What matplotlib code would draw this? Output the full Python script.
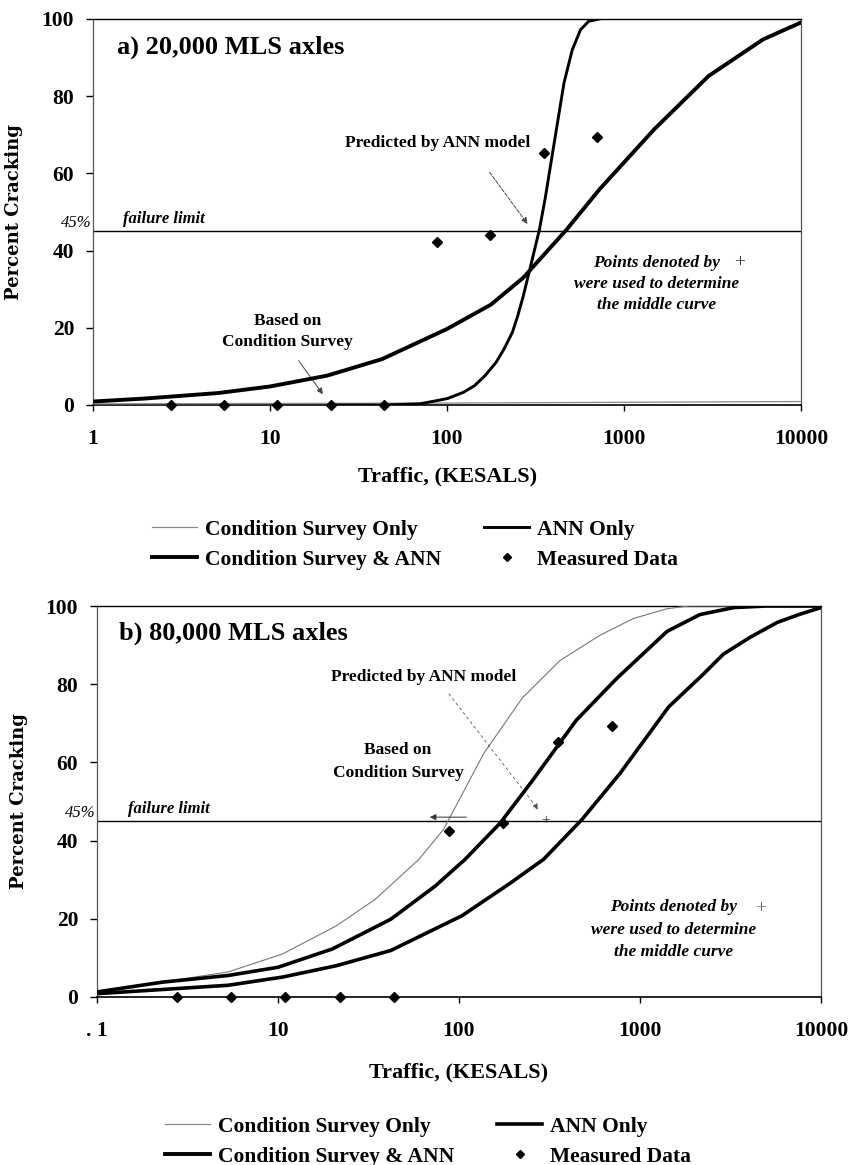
import matplotlib
matplotlib.use('Agg')
import matplotlib.pyplot as plt
from matplotlib.lines import Line2D

plt.rcParams['font.family'] = ['Liberation Serif', 'DejaVu Serif']
plt.rcParams['font.weight'] = 'bold'

# ---------------- data ----------------
measured_x = [2.75, 5.5, 11, 22, 44, 88, 176, 352, 704]
measured_a = [0, 0, 0, 0, 0, 42.2, 44.1, 65.2, 69.4]
measured_b = [0, 0, 0, 0, 0, 42.4, 44.5, 65.3, 69.2]

# panel a (20,000 MLS axles)
a_cs_x = [1, 10, 100, 1000, 10000]
a_cs_y = [0.3, 0.4, 0.5, 0.7, 0.9]
a_ann_x = [22, 44, 70, 87, 101, 124, 143, 164, 189, 210, 234, 251, 270, 300, 333,
           358, 384, 412, 458, 510, 568, 631, 725]
a_ann_y = [0, 0, 0.3, 1.1, 1.7, 3.3, 5.0, 7.6, 11, 14.5, 18.8, 23.1, 28.3, 36.9, 45.5,
           53.3, 61.9, 70.5, 83.4, 92, 97.2, 99.4, 100]
a_both_x = [1, 2, 5.1, 10, 21, 43, 100, 177, 270, 475, 728, 1480, 3000, 6100, 10000]
a_both_y = [0.9, 1.7, 3.1, 4.8, 7.6, 11.9, 19.7, 26, 33, 45.5, 55.9, 71.4, 85.2, 94.7, 99.1]

# panel b (80,000 MLS axles)
b_cs_x = [1, 5.3, 10.6, 21, 34.5, 60, 82, 137, 224, 360, 600, 920, 1410, 1860, 10000]
b_cs_y = [1.3, 6.4, 11, 18.2, 25, 35.2, 42.8, 62.3, 76.5, 86, 92.5, 96.8, 99.3, 100, 100]
b_ann_x = [1, 5.3, 10.6, 21, 42, 104, 193, 293, 476, 776, 1440, 2230, 2890, 4060, 5730, 7650, 10000]
b_ann_y = [0.85, 3, 5.1, 8, 11.9, 20.8, 29.2, 35.2, 45.3, 57.2, 74.2, 82.5, 87.7, 92, 95.8, 97.9, 99.6]
b_both_x = [1, 2.3, 5.3, 10, 20, 42, 74, 108, 169, 256, 445, 745, 1410, 2140, 3300, 5000, 10000]
b_both_y = [1.3, 3.8, 5.5, 7.6, 12.3, 19.9, 28.4, 35.2, 44.5, 55.5, 70.8, 81.5, 93.5, 97.8, 99.6, 100, 100]

x_ticks = [1, 10, 100, 1000, 10000]
x_labels_a = ['1', '10', '100', '1000', '10000']
x_labels_b = ['. 1', '10', '100', '1000', '10000']
y_ticks = [0, 20, 40, 60, 80, 100]
failure_limit = 45

legend_labels = ['Condition Survey Only', 'ANN Only', 'Condition Survey & ANN', 'Measured Data']

W, H = 854, 1165
fig = plt.figure(figsize=(W / 100, H / 100), dpi=100)


def fig_rect(l, r, t, b):
    return [l / W, 1 - b / H, (r - l) / W, (b - t) / H]


def style_axes(ax, xlabels):
    ax.set_xscale('log')
    ax.set_xlim(1, 10000)
    ax.set_ylim(0, 100)
    ax.set_xticks(x_ticks)
    ax.set_xticklabels(xlabels)
    ax.xaxis.set_minor_locator(matplotlib.ticker.NullLocator())
    ax.set_yticks(y_ticks)
    ax.set_yticklabels([str(v) for v in y_ticks])
    ax.tick_params(axis='x', direction='out', length=4, width=1, pad=13, labelsize=15.5)
    ax.tick_params(axis='y', direction='out', length=5, width=1, pad=8.5, labelsize=15.5)
    for s in ['left', 'right']:
        ax.spines[s].set_color('#555555')
        ax.spines[s].set_linewidth(0.9)
    ax.spines['top'].set_color('black')
    ax.spines['top'].set_linewidth(1.0)
    ax.spines['bottom'].set_color('black')
    ax.spines['bottom'].set_linewidth(1.2)
    ax.set_xlabel('Traffic, (KESALS)', fontsize=16, fontweight='bold')
    ax.set_ylabel('Percent Cracking', fontsize=13, fontweight='bold',
                  family=['DejaVu Serif'])
    ax.axhline(failure_limit, color='black', lw=1.0, zorder=2)


# ---------------- panel a ----------------
axa = fig.add_axes(fig_rect(93, 801, 19, 405))
style_axes(axa, x_labels_a)
axa.xaxis.set_label_coords(0.501, -0.186)
axa.xaxis.label.set_va('center')
axa.yaxis.set_label_coords(-0.099, 0.5)
axa.plot(a_cs_x, a_cs_y, color='#888888', lw=0.9, zorder=3)
axa.plot(a_ann_x, a_ann_y, color='black', lw=2.1, zorder=4)
axa.plot(a_both_x, a_both_y, color='black', lw=2.8, zorder=4)
axa.plot(measured_x, measured_a, ls='none', marker='D', ms=5.5, color='black',
         clip_on=False, zorder=5)

axa.text(0.034, 0.927, 'a) 20,000 MLS axles', transform=axa.transAxes,
         fontsize=19, fontweight='bold', va='center', ha='left')
axa.text(88, 68, 'Predicted by ANN model', fontsize=12.5, ha='center', va='center')
axa.annotate('', xy=(285, 46.9), xytext=(174, 60.3),
             arrowprops=dict(arrowstyle='-|>', color='#444444', lw=0.7, ls='--',
                             mutation_scale=9, shrinkA=0, shrinkB=0))
axa.text(12.5, 21.8, 'Based on', fontsize=12.5, ha='center', va='center')
axa.text(12.5, 16.2, 'Condition Survey', fontsize=12.5, ha='center', va='center')
axa.annotate('', xy=(19.9, 2.8), xytext=(14.5, 11.5),
             arrowprops=dict(arrowstyle='-|>', color='#444444', lw=0.7,
                             mutation_scale=9, shrinkA=0, shrinkB=0))
for txt, yy in [('Points denoted by', 36.9), ('were used to determine', 31.3),
                ('the middle curve', 25.9)]:
    axa.text(1530, yy, txt, fontsize=12.5, style='italic', ha='center', va='center')
axa.text(4520, 36.9, '+', fontsize=14, fontweight='normal', ha='center', va='center',
         color='#333333')
axa.text(1.48, 48.1, 'failure limit', fontsize=12, style='italic', ha='left', va='center')
axa.text(-0.002, 47.1, '45%', transform=axa.get_yaxis_transform(), fontsize=12,
         style='italic', fontweight='normal', ha='right', va='center')

# ---------------- panel b ----------------
axb = fig.add_axes(fig_rect(97, 821, 606, 997))
style_axes(axb, x_labels_b)
axb.xaxis.set_label_coords(0.5, -0.192)
axb.xaxis.label.set_va('center')
axb.yaxis.set_label_coords(-0.095, 0.5)
axb.plot(b_cs_x, b_cs_y, color='#777777', lw=0.8, zorder=3)
axb.plot(b_ann_x, b_ann_y, color='black', lw=2.6, zorder=4)
axb.plot(b_both_x, b_both_y, color='black', lw=2.6, zorder=4)
axb.plot(measured_x, measured_b, ls='none', marker='D', ms=5.5, color='black',
         clip_on=False, zorder=5)

axb.text(0.030, 0.931, 'b) 80,000 MLS axles', transform=axb.transAxes,
         fontsize=19, fontweight='bold', va='center', ha='left')
axb.text(64, 81.8, 'Predicted by ANN model', fontsize=12.5, ha='center', va='center')
axb.annotate('', xy=(275, 47.9), xytext=(88, 77.5),
             arrowprops=dict(arrowstyle='-|>', color='#555555', lw=0.6, ls=(0, (3, 4)),
                             mutation_scale=9, shrinkA=0, shrinkB=0))
axb.text(46, 63.1, 'Based on', fontsize=12.5, ha='center', va='center')
axb.text(46, 57.4, 'Condition Survey', fontsize=12.5, ha='center', va='center')
axb.annotate('', xy=(69, 46), xytext=(110, 46),
             arrowprops=dict(arrowstyle='-|>', color='#333333', lw=0.7,
                             mutation_scale=9, shrinkA=0, shrinkB=0))
axb.text(300, 45, '+', fontsize=11, fontweight='normal', ha='center', va='center',
         color='#333333')
for txt, yy in [('Points denoted by', 22.9), ('were used to determine', 17.2),
                ('the middle curve', 11.4)]:
    axb.text(1540, yy, txt, fontsize=12.5, style='italic', ha='center', va='center')
axb.text(4610, 22.5, '+', fontsize=14, fontweight='normal', ha='center', va='center',
         color='#666666')
axb.text(1.48, 48.1, 'failure limit', fontsize=12, style='italic', ha='left', va='center')
axb.text(-0.002, 47.0, '45%', transform=axb.get_yaxis_transform(), fontsize=12,
         style='italic', fontweight='normal', ha='right', va='center')

# ---------------- legends ----------------
def make_handles(lw_ann):
    return [Line2D([], [], color='#888888', lw=0.9),
            Line2D([], [], color='black', lw=2.8),
            Line2D([], [], color='black', lw=lw_ann),
            Line2D([], [], ls='none', marker='D', ms=4.5, color='black')]

for anchor_x, anchor_y, lw_ann in [(415, 509, 2.1), (428, 1106, 2.6)]:
    hs = make_handles(lw_ann)
    labs = [legend_labels[0], legend_labels[2], legend_labels[1], legend_labels[3]]
    fig.legend(hs, labs, loc='upper center', ncol=2,
               bbox_to_anchor=(anchor_x / W, 1 - anchor_y / H), frameon=False,
               fontsize=15.5, handlelength=2.1, handletextpad=0.35,
               columnspacing=2.0, labelspacing=0.45, borderpad=0)

fig.savefig('out.png', dpi=100)
